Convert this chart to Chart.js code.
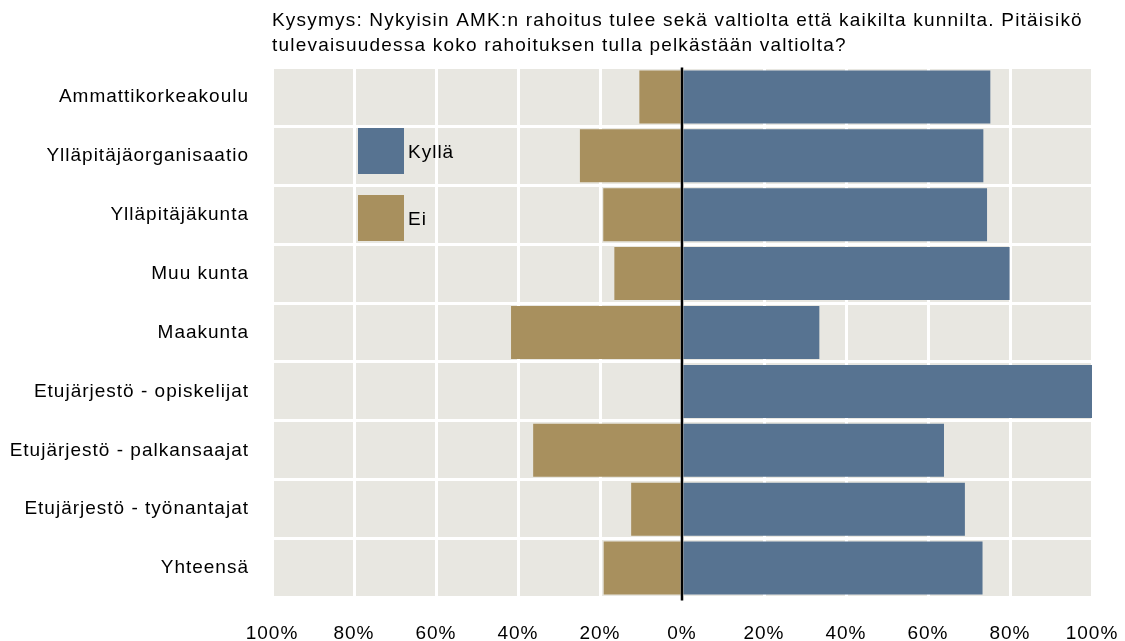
<!DOCTYPE html>
<html>
<head>
<meta charset="utf-8">
<script src="https://cdn.jsdelivr.net/npm/chart.js@4/dist/chart.umd.min.js"></script>
<style>
html,body{margin:0;padding:0;background:#fff;}
#wrap{width:1125px;height:641px;}
</style>
</head>
<body>
<div id="wrap"><canvas id="c" width="1125" height="641"></canvas></div>
<script>
const titleLines = [
  "Kysymys: Nykyisin AMK:n rahoitus tulee sekä valtiolta että kaikilta kunnilta. Pitäisikö",
  "tulevaisuudessa koko rahoituksen tulla pelkästään valtiolta?"
];
const categories = [
  "Ammattikorkeakoulu",
  "Ylläpitäjäorganisaatio",
  "Ylläpitäjäkunta",
  "Muu kunta",
  "Maakunta",
  "Etujärjestö - opiskelijat",
  "Etujärjestö - palkansaajat",
  "Etujärjestö - työnantajat",
  "Yhteensä"
];
const kylla = [75.2, 73.5, 74.4, 79.9, 33.5, 100, 63.9, 69.0, 73.3];
const ei = [10.4, 24.9, 19.2, 16.5, 41.7, 0, 36.3, 12.4, 19.1];
const xTicks = [-100, -80, -60, -40, -20, 0, 20, 40, 60, 80, 100];
const seriesNames = ["Kyllä", "Ei"];
const colKylla = "#577391";
const colEi = "#A8905E";
const FONT = "'Liberation Sans', Arial, Helvetica, sans-serif";

const bgPlugin = {
  id: 'bg',
  beforeDraw(chart) {
    const a = chart.chartArea, ctx = chart.ctx;
    ctx.letterSpacing = '1px';
    ctx.save();
    ctx.fillStyle = '#E8E7E1';
    ctx.fillRect(a.left, a.top, a.right - a.left, a.bottom - a.top);
    ctx.restore();
  }
};
const titlePlugin = {
  id: 'ttl',
  afterDraw(chart) {
    const ctx = chart.ctx;
    ctx.save();
    ctx.letterSpacing = '1.2px';
    ctx.fillStyle = '#000';
    ctx.font = '19px ' + FONT;
    ctx.textAlign = 'left';
    ctx.textBaseline = 'middle';
    ctx.fillText(titleLines[0], chart.chartArea.left, 21);
    ctx.fillText(titleLines[1], chart.chartArea.left, 46);
    ctx.restore();
  }
};
const zeroPlugin = {
  id: 'zero',
  afterDatasetsDraw(chart) {
    const x = chart.scales.x.getPixelForValue(0);
    const a = chart.chartArea, ctx = chart.ctx;
    ctx.save();
    ctx.strokeStyle = '#000';
    ctx.lineWidth = 2.5;
    ctx.beginPath();
    ctx.moveTo(x, a.top);
    ctx.lineTo(x, a.bottom + 3);
    ctx.stroke();
    ctx.restore();
  }
};
const legendPlugin = {
  id: 'lgd',
  afterDatasetsDraw(chart) {
    const ctx = chart.ctx;
    const items = [
      {label: chart.data.datasets[1].label, color: chart.data.datasets[1].backgroundColor, y: 128},
      {label: chart.data.datasets[0].label, color: chart.data.datasets[0].backgroundColor, y: 195}
    ];
    ctx.save();
    ctx.letterSpacing = '1px';
    items.forEach(it => {
      ctx.fillStyle = it.color;
      ctx.fillRect(358, it.y, 46, 46);
      ctx.fillStyle = '#000';
      ctx.font = '19px ' + FONT;
      ctx.textAlign = 'left';
      ctx.textBaseline = 'middle';
      ctx.fillText(it.label, 408, it.y + 25);
    });
    ctx.restore();
  }
};

new Chart(document.getElementById('c'), {
  type: 'bar',
  data: {
    labels: categories,
    datasets: [
      {label: seriesNames[1], data: ei.map(v => -v), backgroundColor: colEi, categoryPercentage: 0.9, barPercentage: 1},
      {label: seriesNames[0], data: kylla, backgroundColor: colKylla, categoryPercentage: 0.9, barPercentage: 1}
    ]
  },
  options: {
    indexAxis: 'y',
    responsive: false,
    animation: false,
    layout: {padding: {top: 67.5, right: 33, left: 0, bottom: 0}},
    plugins: {legend: {display: false}, title: {display: false}, tooltip: {enabled: false}},
    scales: {
      x: {
        stacked: true,
        min: -100, max: 100,
        afterBuildTicks(s) { s.ticks = xTicks.map(v => ({value: v})); },
        afterFit(s) { s.height = 43.5; s.paddingRight = 0; s.paddingLeft = 0; },
        grid: {color: '#ffffff', lineWidth: 3, drawTicks: false},
        border: {display: false},
        ticks: {
          padding: 25,
          maxRotation: 0,
          color: '#000',
          font: {size: 19, family: FONT},
          callback: v => Math.abs(v) + '%'
        }
      },
      y: {
        stacked: true,
        afterFit(s) { s.width = 272; },
        grid: {color: '#ffffff', lineWidth: 3, drawTicks: false, offset: true},
        border: {display: false},
        ticks: {padding: 23, color: '#000', font: {size: 19, family: FONT}}
      }
    }
  },
  plugins: [bgPlugin, zeroPlugin, legendPlugin, titlePlugin]
});
</script>
</body>
</html>
